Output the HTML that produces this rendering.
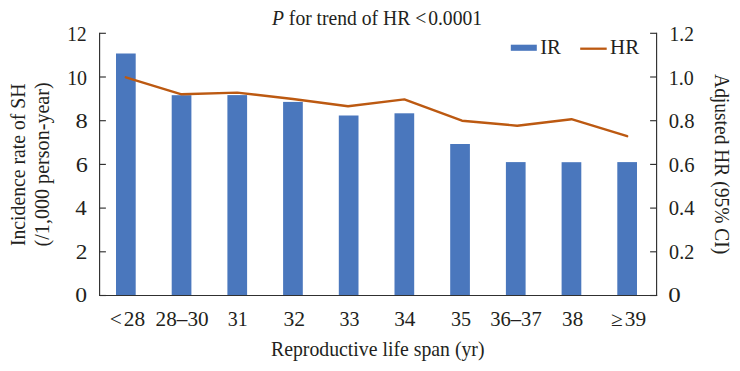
<!DOCTYPE html>
<html><head><meta charset="utf-8"><style>
html,body{margin:0;padding:0;background:#fff;}
svg{display:block;}
text{font-family:"Liberation Serif",serif;fill:#231f20;}
</style></head><body>
<svg width="740" height="371" viewBox="0 0 740 371">
<rect x="116.00" y="53.50" width="19.7" height="242.00" fill="#4a77bd"/>
<rect x="171.70" y="95.20" width="19.7" height="200.30" fill="#4a77bd"/>
<rect x="227.40" y="95.10" width="19.7" height="200.40" fill="#4a77bd"/>
<rect x="283.10" y="101.90" width="19.7" height="193.60" fill="#4a77bd"/>
<rect x="338.80" y="115.50" width="19.7" height="180.00" fill="#4a77bd"/>
<rect x="394.50" y="113.30" width="19.7" height="182.20" fill="#4a77bd"/>
<rect x="450.20" y="144.00" width="19.7" height="151.50" fill="#4a77bd"/>
<rect x="505.90" y="162.10" width="19.7" height="133.40" fill="#4a77bd"/>
<rect x="561.60" y="162.20" width="19.7" height="133.30" fill="#4a77bd"/>
<rect x="617.30" y="162.10" width="19.7" height="133.40" fill="#4a77bd"/>
<polyline points="125.85,77.30 181.55,94.30 237.25,92.60 292.95,99.00 348.05,106.30 404.35,99.35 462.00,120.70 517.20,125.70 571.45,119.20 627.15,136.20" fill="none" stroke="#bc5911" stroke-width="2.4" stroke-linejoin="round" stroke-linecap="round"/>
<line x1="99.6" y1="32.70" x2="99.6" y2="296.07" stroke="#303030" stroke-width="1.15"/>
<line x1="656.6" y1="32.70" x2="656.6" y2="296.07" stroke="#303030" stroke-width="1.15"/>
<line x1="99.02499999999999" y1="295.5" x2="657.1750000000001" y2="295.5" stroke="#303030" stroke-width="1.15"/>
<line x1="99.6" y1="295.50" x2="105.89999999999999" y2="295.50" stroke="#303030" stroke-width="1.15"/>
<line x1="650.1" y1="295.50" x2="656.6" y2="295.50" stroke="#303030" stroke-width="1.15"/>
<line x1="99.6" y1="251.80" x2="105.89999999999999" y2="251.80" stroke="#303030" stroke-width="1.15"/>
<line x1="650.1" y1="251.80" x2="656.6" y2="251.80" stroke="#303030" stroke-width="1.15"/>
<line x1="99.6" y1="208.10" x2="105.89999999999999" y2="208.10" stroke="#303030" stroke-width="1.15"/>
<line x1="650.1" y1="208.10" x2="656.6" y2="208.10" stroke="#303030" stroke-width="1.15"/>
<line x1="99.6" y1="164.40" x2="105.89999999999999" y2="164.40" stroke="#303030" stroke-width="1.15"/>
<line x1="650.1" y1="164.40" x2="656.6" y2="164.40" stroke="#303030" stroke-width="1.15"/>
<line x1="99.6" y1="120.70" x2="105.89999999999999" y2="120.70" stroke="#303030" stroke-width="1.15"/>
<line x1="650.1" y1="120.70" x2="656.6" y2="120.70" stroke="#303030" stroke-width="1.15"/>
<line x1="99.6" y1="77.00" x2="105.89999999999999" y2="77.00" stroke="#303030" stroke-width="1.15"/>
<line x1="650.1" y1="77.00" x2="656.6" y2="77.00" stroke="#303030" stroke-width="1.15"/>
<line x1="99.6" y1="33.30" x2="105.89999999999999" y2="33.30" stroke="#303030" stroke-width="1.15"/>
<line x1="650.1" y1="33.30" x2="656.6" y2="33.30" stroke="#303030" stroke-width="1.15"/>
<text x="377.01" y="24.70" font-size="20.7" textLength="210.06" lengthAdjust="spacingAndGlyphs" text-anchor="middle"><tspan font-style="italic">P</tspan> for trend of HR &lt;<tspan dx="2">0.0001</tspan></text>
<text x="377.76" y="355.70" font-size="20.7" textLength="213.52" lengthAdjust="spacingAndGlyphs" text-anchor="middle">Reproductive life span (yr)</text>
<text transform="translate(25.00,164.81) rotate(-90)" font-size="20.7" textLength="162.54" lengthAdjust="spacingAndGlyphs" text-anchor="middle">Incidence rate of SH</text>
<text transform="translate(49.40,164.39) rotate(-90)" font-size="20.7" textLength="164.14" lengthAdjust="spacingAndGlyphs" text-anchor="middle">(/1,000 person-year)</text>
<text transform="translate(715.40,164.17) rotate(90)" font-size="20.7" textLength="180.22" lengthAdjust="spacingAndGlyphs" text-anchor="middle">Adjusted HR (95% CI)</text>
<text x="550.54" y="53.80" font-size="20.7" textLength="20.76" lengthAdjust="spacingAndGlyphs" text-anchor="middle">IR</text>
<text x="624.57" y="53.90" font-size="20.7" textLength="29.10" lengthAdjust="spacingAndGlyphs" text-anchor="middle">HR</text>
<text x="81.12" y="302.30" font-size="20.7" textLength="11.78" lengthAdjust="spacingAndGlyphs" text-anchor="middle">0</text>
<text x="81.64" y="258.78" font-size="20.7" textLength="11.70" lengthAdjust="spacingAndGlyphs" text-anchor="middle">2</text>
<text x="80.90" y="215.26" font-size="20.7" textLength="11.46" lengthAdjust="spacingAndGlyphs" text-anchor="middle">4</text>
<text x="81.74" y="171.74" font-size="20.7" textLength="12.08" lengthAdjust="spacingAndGlyphs" text-anchor="middle">6</text>
<text x="81.60" y="128.22" font-size="20.7" textLength="12.22" lengthAdjust="spacingAndGlyphs" text-anchor="middle">8</text>
<text x="77.12" y="84.70" font-size="20.7" textLength="19.94" lengthAdjust="spacingAndGlyphs" text-anchor="middle">10</text>
<text x="76.92" y="41.18" font-size="20.7" textLength="19.24" lengthAdjust="spacingAndGlyphs" text-anchor="middle">12</text>
<text x="674.38" y="302.30" font-size="20.7" textLength="12.46" lengthAdjust="spacingAndGlyphs" text-anchor="middle">0</text>
<text x="681.66" y="258.78" font-size="20.7" textLength="25.10" lengthAdjust="spacingAndGlyphs" text-anchor="middle">0.2</text>
<text x="681.62" y="215.26" font-size="20.7" textLength="25.82" lengthAdjust="spacingAndGlyphs" text-anchor="middle">0.4</text>
<text x="681.60" y="171.74" font-size="20.7" textLength="25.78" lengthAdjust="spacingAndGlyphs" text-anchor="middle">0.6</text>
<text x="681.60" y="128.22" font-size="20.7" textLength="25.78" lengthAdjust="spacingAndGlyphs" text-anchor="middle">0.8</text>
<text x="681.36" y="84.70" font-size="20.7" textLength="25.00" lengthAdjust="spacingAndGlyphs" text-anchor="middle">1.0</text>
<text x="681.72" y="41.18" font-size="20.7" textLength="24.22" lengthAdjust="spacingAndGlyphs" text-anchor="middle">1.2</text>
<text x="127.44" y="325.90" font-size="20.7" textLength="35.44" lengthAdjust="spacingAndGlyphs" text-anchor="middle">&lt;<tspan dx="2">28</tspan></text>
<text x="182.10" y="325.90" font-size="20.7" textLength="52.98" lengthAdjust="spacingAndGlyphs" text-anchor="middle">28&#8211;30</text>
<text x="237.78" y="325.90" font-size="20.7" textLength="20.00" lengthAdjust="spacingAndGlyphs" text-anchor="middle">31</text>
<text x="294.28" y="325.90" font-size="20.7" textLength="21.68" lengthAdjust="spacingAndGlyphs" text-anchor="middle">32</text>
<text x="349.46" y="325.90" font-size="20.7" textLength="19.94" lengthAdjust="spacingAndGlyphs" text-anchor="middle">33</text>
<text x="404.86" y="325.90" font-size="20.7" textLength="21.30" lengthAdjust="spacingAndGlyphs" text-anchor="middle">34</text>
<text x="461.02" y="325.90" font-size="20.7" textLength="20.16" lengthAdjust="spacingAndGlyphs" text-anchor="middle">35</text>
<text x="515.98" y="325.90" font-size="20.7" textLength="51.40" lengthAdjust="spacingAndGlyphs" text-anchor="middle">36&#8211;37</text>
<text x="572.64" y="325.90" font-size="20.7" textLength="21.02" lengthAdjust="spacingAndGlyphs" text-anchor="middle">38</text>
<text x="628.56" y="325.90" font-size="20.7" textLength="35.14" lengthAdjust="spacingAndGlyphs" text-anchor="middle">&#8805;<tspan dx="2">39</tspan></text>
<rect x="510.8" y="44.7" width="26" height="6.1" fill="#4a77bd"/>
<line x1="580.2" y1="48.7" x2="606.7" y2="48.7" stroke="#bc5911" stroke-width="2.3"/>
</svg>
</body></html>
